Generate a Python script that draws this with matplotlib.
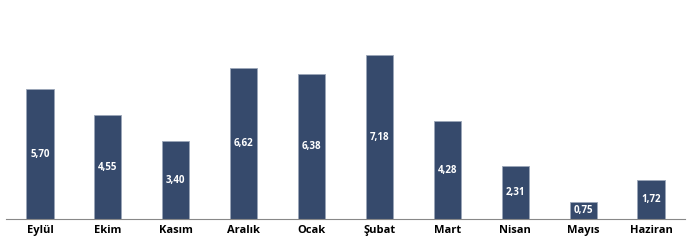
import matplotlib
matplotlib.use("Agg")
import matplotlib.pyplot as plt

categories = ["Eylül", "Ekim", "Kasım", "Aralık", "Ocak", "Şubat", "Mart", "Nisan", "Mayıs", "Haziran"]
values = [5.70, 4.55, 3.40, 6.62, 6.38, 7.18, 4.28, 2.31, 0.75, 1.72]
labels = ["5,70", "4,55", "3,40", "6,62", "6,38", "7,18", "4,28", "2,31", "0,75", "1,72"]

W, H = 697, 247
fig = plt.figure(figsize=(W / 100, H / 100), dpi=100)
ax = fig.add_axes([6 / W, (H - 219) / H, (685 - 6) / W, 219 / H])

x = list(range(len(categories)))
ax.bar(x, values, width=0.4, color="#364a6c", edgecolor="#9aa6b8", linewidth=0.6)
for xi, v, lab in zip(x, values, labels):
    ax.text(xi, v / 2, lab, ha="center", va="center", color="white",
            fontsize=7, fontweight="bold", family=["Open Sans", "DejaVu Sans"])

ax.set_xlim(-0.5, 9.5)
ax.set_ylim(0, 219 / 22.8)
ax.set_xticks(x)
ax.set_xticklabels(categories, fontsize=8, fontweight="bold", family=["Open Sans", "DejaVu Sans"])
ax.tick_params(axis="x", length=0, pad=4)
ax.set_yticks([])
for s in ["top", "right", "left"]:
    ax.spines[s].set_visible(False)
ax.spines["bottom"].set_color("#888888")
ax.spines["bottom"].set_linewidth(0.8)

fig.savefig("out.png", dpi=100)
